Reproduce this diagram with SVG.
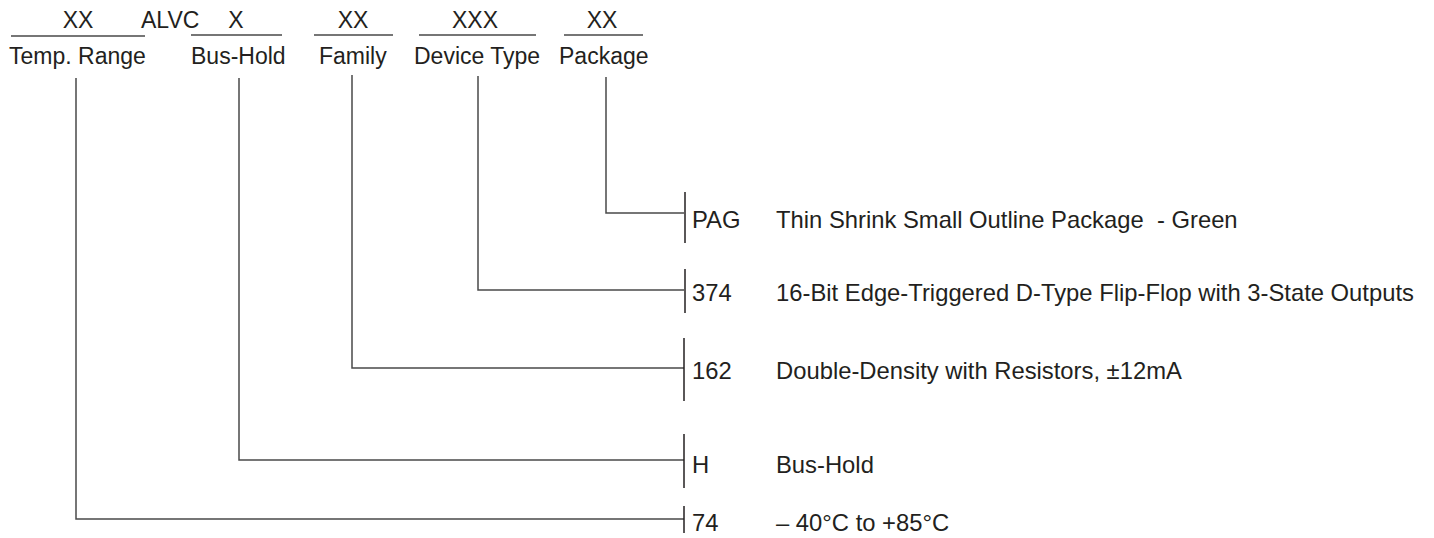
<svg xmlns="http://www.w3.org/2000/svg" width="1434" height="538" viewBox="0 0 1434 538">
<style>
text{font-family:"Liberation Sans",Arial,sans-serif;font-size:23px;fill:#231f20;white-space:pre}
.m{text-anchor:middle}
.o{font-size:23.8px}
.ln{stroke:#4a4a4a;stroke-width:1.5;fill:none}
.tk{stroke:#231f20;stroke-width:1.5;fill:none}
</style>
<rect width="1434" height="538" fill="#fff"/>
<g id="header">
<text class="m" x="78" y="28">XX</text>
<text x="141" y="28">ALVC</text>
<text class="m" x="236" y="28">X</text>
<text class="m" x="353" y="28">XX</text>
<text class="m" x="475" y="28">XXX</text>
<text class="m" x="602" y="28">XX</text>
<path class="ln" d="M11 36H145M191 35H282M314 35H393M419 35H536M564 35H643"/>
</g>
<g id="temp-range"><text x="9" y="64">Temp. Range</text></g>
<g id="bus-hold"><text x="191" y="64">Bus-Hold</text></g>
<g id="family"><text x="319" y="64">Family</text></g>
<g id="device-type"><text x="414" y="64">Device Type</text></g>
<g id="package"><text x="559" y="64">Package</text></g>
<g id="connectors">
<path class="ln" d="M76 78V519H684"/>
<path class="ln" d="M239 78V460H684"/>
<path class="ln" d="M352 75V368H684"/>
<path class="ln" d="M478 76V290H684"/>
<path class="ln" d="M606 77V213H684"/>
</g>
<g id="opt-pag">
<path class="tk" d="M685 192V243"/>
<text class="o" x="692" y="228">PAG</text>
<text class="o" x="776" y="228">Thin Shrink Small Outline Package  - Green</text>
</g>
<g id="opt-374">
<path class="tk" d="M685 269V313"/>
<text class="o" x="692" y="301">374</text>
<text class="o" x="776" y="301">16-Bit Edge-Triggered D-Type Flip-Flop with 3-State Outputs</text>
</g>
<g id="opt-162">
<path class="tk" d="M684 338V401"/>
<text class="o" x="692" y="379">162</text>
<text class="o" x="776" y="379">Double-Density with Resistors, ±12mA</text>
</g>
<g id="opt-h">
<path class="tk" d="M684 434V488"/>
<text class="o" x="692" y="473">H</text>
<text class="o" x="776" y="473">Bus-Hold</text>
</g>
<g id="opt-74">
<path class="tk" d="M684 506V533"/>
<text class="o" x="692" y="531">74</text>
<text class="o" x="776" y="531">– 40°C to +85°C</text>
</g>
</svg>
